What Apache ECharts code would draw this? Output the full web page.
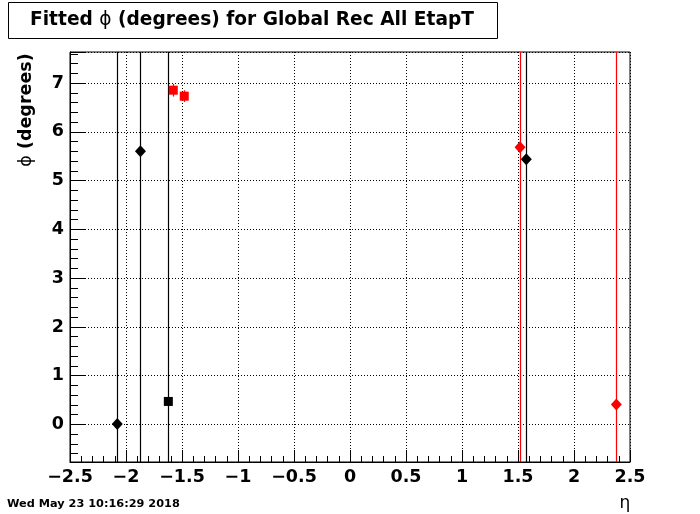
<!DOCTYPE html>
<html>
<head>
<meta charset="utf-8">
<script src="https://cdn.jsdelivr.net/npm/echarts@6/dist/echarts.min.js"></script>
<style>
html,body{margin:0;padding:0;background:#fff;}
#chart{width:700px;height:514px;}
</style>
</head>
<body>
<div id="chart"></div>
<script>
// ---- data (eta, phi, error on phi) ----
const blackDiamondEta = [-2.078, -1.871, 1.574];
const blackDiamondPhi = [0.01, 5.605, 5.44];
const blackDiamondErr = [30, 30, 30];

const blackSquareEta = [-1.622];
const blackSquarePhi = [0.472];
const blackSquareErr = [30];

const redSquareEta = [-1.578, -1.480];
const redSquarePhi = [6.857, 6.734];
const redSquareErr = [0.13, 0.12];

const redDiamondEta = [1.518, 2.378];
const redDiamondPhi = [5.687, 0.41];
const redDiamondErr = [30, 30];

const xTicks = [-2.5, -2, -1.5, -1, -0.5, 0, 0.5, 1, 1.5, 2, 2.5];
const yTicks = [0, 1, 2, 3, 4, 5, 6, 7];

const xTitle = 'η';
const dateText = 'Wed May 23 10:16:29 2018';

const FONT = 'DejaVu Sans';

function pts(xs, ys, es) { return xs.map((x, i) => [x, ys[i], es[i]]); }

function errSeries(data, color) {
  return {
    type: 'custom',
    data: data,
    z: 2,
    silent: true,
    renderItem: function (params, api) {
      const x = api.value(0), y = api.value(1), e = api.value(2);
      const lo = api.coord([x, y - e]);
      const hi = api.coord([x, y + e]);
      const cs = params.coordSys;
      const top = cs.y, bot = cs.y + cs.height;
      const y1 = Math.min(Math.max(lo[1], top), bot);
      const y2 = Math.min(Math.max(hi[1], top), bot);
      const px = Math.round(lo[0]) + 0.5;
      return {
        type: 'line',
        shape: { x1: px, y1: y1, x2: px, y2: y2 },
        style: { stroke: color, lineWidth: 1.2 }
      };
    }
  };
}

function markSeries(data, symbol, size, color) {
  return {
    type: 'scatter',
    data: data.map(d => [d[0], d[1]]),
    symbol: symbol,
    symbolSize: size,
    itemStyle: { color: color, opacity: 1 },
    z: 3,
    silent: true
  };
}

const bd = pts(blackDiamondEta, blackDiamondPhi, blackDiamondErr);
const bs = pts(blackSquareEta, blackSquarePhi, blackSquareErr);
const rs = pts(redSquareEta, redSquarePhi, redSquareErr);
const rd = pts(redDiamondEta, redDiamondPhi, redDiamondErr);

const fmtNum = v => {
  const r = Math.round(v * 10) / 10;
  return (r < 0 ? '\u2212' : '') + String(Math.abs(r));
};

const chart = echarts.init(document.getElementById('chart'), null, { renderer: 'canvas' });
chart.setOption({
  animation: false,
  backgroundColor: '#fff',
  grid: { left: 70, top: 52, width: 560, height: 410, show: true, borderColor: '#000', borderWidth: 1, backgroundColor: 'transparent', containLabel: false },
  xAxis: {
    type: 'value', min: xTicks[0], max: xTicks[xTicks.length - 1], interval: 0.5,
    axisLine: { show: true, onZero: false, lineStyle: { color: '#000', width: 1 } },
    axisTick: { show: true, inside: true, length: 12, lineStyle: { color: '#000' } },
    minorTick: { show: true, splitNumber: 5, length: 6, lineStyle: { color: '#000' } },
    splitLine: { show: true, lineStyle: { color: '#000', type: [1, 2], width: 1 } },
    axisLabel: { show: true, margin: 6, color: '#000', fontFamily: FONT, fontWeight: 'bold', fontSize: 17.5,
      formatter: v => xTicks.some(t => Math.abs(t - v) < 1e-6) ? fmtNum(v) : '' }
  },
  yAxis: {
    type: 'value', min: -0.77, max: 7.64, splitNumber: 8,
    axisLine: { show: true, onZero: false, lineStyle: { color: '#000', width: 1 } },
    axisTick: { show: true, inside: true, length: 16, lineStyle: { color: '#000' } },
    minorTick: { show: true, splitNumber: 5, length: 8, lineStyle: { color: '#000' } },
    splitLine: { show: true, lineStyle: { color: '#000', type: [1, 2], width: 1 } },
    axisLabel: { show: true, margin: 6, color: '#000', fontFamily: FONT, fontWeight: 'bold', fontSize: 17.5,
      padding: [3, 0, 0, 0],
      showMinLabel: true, showMaxLabel: true,
      formatter: v => yTicks.some(t => Math.abs(t - v) < 1e-6) ? fmtNum(v) : '' }
  },
  graphic: [
    { type: 'rect', shape: { x: 8.5, y: 2.5, width: 489, height: 36 }, style: { fill: '#fff', stroke: '#000', lineWidth: 1 }, z: 10 },
    { type: 'text', x: 252, y: 20, z: 11,
      style: { text: '{b|Fitted }{n|ϕ}{b| (degrees) for Global Rec All EtapT}', align: 'center', verticalAlign: 'middle',
        rich: { b: { fontFamily: FONT, fontWeight: 'bold', fontSize: 18.6, fill: '#000' }, n: { fontFamily: FONT, fontWeight: 'normal', fontSize: 18.6, fill: '#000' } } } },
    { type: 'text', x: 26, y: 110, rotation: Math.PI / 2, z: 11,
      style: { text: '{n|ϕ}{b| (degrees)}', align: 'center', verticalAlign: 'middle',
        rich: { b: { fontFamily: FONT, fontWeight: 'bold', fontSize: 17.5, fill: '#000' }, n: { fontFamily: FONT, fontWeight: 'normal', fontSize: 17.5, fill: '#000' } } } },
    { type: 'text', x: 625, y: 504, z: 11,
      style: { text: xTitle, align: 'center', verticalAlign: 'middle', fontFamily: FONT, fontSize: 17, fill: '#000' } },
    { type: 'text', x: 7, y: 504, z: 11,
      style: { text: dateText, align: 'left', verticalAlign: 'middle', fontFamily: FONT, fontWeight: 'bold', fontSize: 11.3, fill: '#000' } }
  ],
  series: [
    errSeries(bd, '#000'),
    errSeries(bs, '#000'),
    errSeries(rs, '#ff0000'),
    errSeries(rd, '#ff0000'),
    markSeries(bd, 'diamond', [11, 12], '#000'),
    markSeries(bs, 'rect', [9, 9], '#000'),
    markSeries(rs, 'rect', [9, 9], '#ff0000'),
    markSeries(rd, 'diamond', [11, 12], '#ff0000')
  ]
});
</script>
</body>
</html>
